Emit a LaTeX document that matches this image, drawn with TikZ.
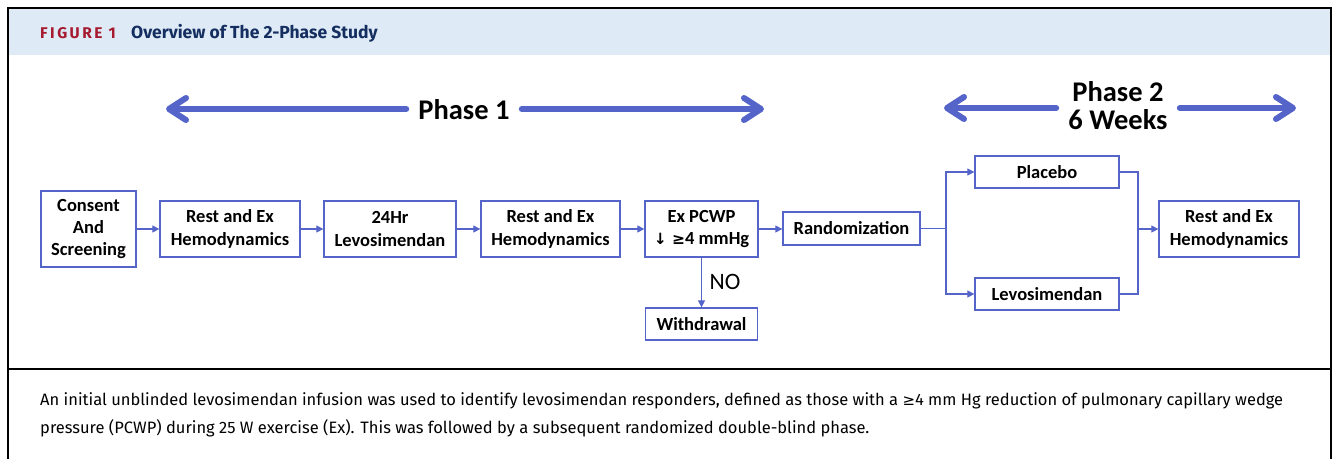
\documentclass[tikz,border=0pt]{standalone}
\usepackage{fontspec}
\setmainfont{Carlito}
\newfontfamily\capfont{Fira Sans}
\newfontfamily\symfont{DejaVu Sans}
\usetikzlibrary{arrows.meta}
\definecolor{flowblue}{RGB}{84,100,200}
\definecolor{bandblue}{RGB}{222,234,246}
\definecolor{figred}{RGB}{166,25,46}
\definecolor{navy}{RGB}{20,46,96}

\begin{document}
\begin{tikzpicture}[x=1pt,y=-1pt,
  every node/.style={font=\fontsize{18.5}{22.5}\selectfont\bfseries},
  flowbox/.style={draw=flowblue,line width=1.3pt,align=center,inner sep=0pt,fill=white},
  flowline/.style={flowblue,line width=1.1pt},
  link/.style={flowline,-{Triangle[length=7pt,width=7pt]}},
  phasetext/.style={inner xsep=12pt,align=center,font=\fontsize{28.5}{28}\selectfont\bfseries},
  phasearrow/.style={flowblue,line width=6pt,line cap=round,
    -{Straight Barb[round,length=17pt,width=22pt]}}]
  \useasboundingbox (0,0) rectangle (1335,459);
  % header band and frame
  \fill[bandblue] (9,9) rectangle (1330,55);
  \draw[line width=1.6pt] (8,459) -- (8,8) -- (1331,8) -- (1331,459);
  \draw[line width=1.6pt] (8,369) -- (1331,369);
  \node[anchor=west,inner sep=0pt,figred,font=\capfont\fontsize{15.5}{17}\selectfont\bfseries\addfontfeature{LetterSpace=16}]
    (figlabel) at (40,33.5) {FIGURE 1};
  \node[anchor=west,inner sep=0pt,navy,font=\capfont\fontsize{17.5}{19}\selectfont\bfseries]
    (figtitle) at (131,33.5) {Overview of The 2-Phase Study};
  % phase arrows
  \node[phasetext] (phase1) at (464,110) {Phase 1};
  \coordinate (p1left) at (166,109);
  \coordinate (p1right) at (764,109);
  \draw[phasearrow] (phase1.west |- p1left) -- (p1left);
  \draw[phasearrow] (phase1.east |- p1right) -- (p1right);
  \node[phasetext] (phase2) at (1118,106) {Phase 2\\6 Weeks};
  \coordinate (p2left) at (944,108);
  \coordinate (p2right) at (1296,108);
  \draw[phasearrow] (phase2.west |- p2left) -- (p2left);
  \draw[phasearrow] (phase2.east |- p2right) -- (p2right);
  % boxes
  \node[flowbox,minimum width=95,minimum height=76,font=\fontsize{18.5}{22}\selectfont\bfseries] (consent) at (88.5,229) {Consent\\And\\Screening};
  \node[flowbox,minimum width=140,minimum height=56] (rest1) at (230,229) {Rest and Ex\\Hemodynamics};
  \node[flowbox,minimum width=132,minimum height=56] (levo1) at (390,229) {24Hr\\Levosimendan};
  \node[flowbox,minimum width=139,minimum height=56] (rest2) at (550.5,229) {Rest and Ex\\Hemodynamics};
  \node[flowbox,minimum width=113,minimum height=56] (pcwp) at (701.5,229) {Ex PCWP\\{\symfont\fontsize{15.5}{15}\selectfont ↓ ≥}4 mmHg};
  \node[flowbox,minimum width=137,minimum height=33] (random) at (851.5,228.5) {Randomization};
  \node[flowbox,minimum width=112,minimum height=32] (withdraw) at (701.5,324) {Withdrawal};
  \node[flowbox,minimum width=144,minimum height=32] (placebo) at (1047,172) {Placebo};
  \node[flowbox,minimum width=144,minimum height=32] (levo2) at (1047,294) {Levosimendan};
  \node[flowbox,minimum width=140,minimum height=56] (rest3) at (1229,229) {Rest and Ex\\Hemodynamics};
  % connectors
  \draw[link] (consent) -- (rest1);
  \draw[link] (rest1) -- (levo1);
  \draw[link] (levo1) -- (rest2);
  \draw[link] (rest2) -- (pcwp);
  \draw[link] (pcwp.east) -- (random.west |- pcwp.east);
  \draw[link] (pcwp) -- (withdraw);
  \node[font=\fontsize{23.5}{26}\selectfont] (no) at (725,282) {NO};
  \coordinate (split) at (946,228.5);
  \coordinate (merge) at (1138,229);
  \draw[flowline] (random.east) -- (split);
  \draw[link] (split) |- (placebo.west);
  \draw[link] (split) |- (levo2.west);
  \draw[flowline] (placebo.east) -| (merge);
  \draw[flowline] (levo2.east) -| (merge);
  \draw[link] (merge) -- (rest3.west);
  % caption
  \node[anchor=north west,inner sep=0pt,align=left,font=\capfont\fontsize{16.5}{28}\selectfont] (caption) at (40,392)
    {An initial unblinded levosimendan infusion was used to identify levosimendan responders, defined as those with a {\symfont\fontsize{15}{15}\selectfont ≥}4 mm Hg reduction of pulmonary capillary wedge\\
     pressure (PCWP) during 25 W exercise (Ex). This was followed by a subsequent randomized double-blind phase.};
\end{tikzpicture}
\end{document}
